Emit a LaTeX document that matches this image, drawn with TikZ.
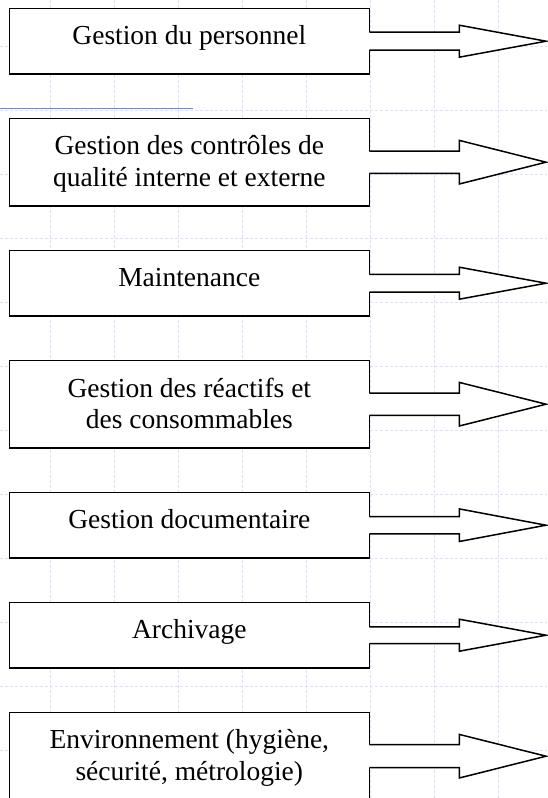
\documentclass[tikz,border=0pt]{standalone}
\usepackage{fontspec}
\setmainfont{Liberation Serif}
\usepackage{tikz}
\usetikzlibrary{positioning,calc}
\definecolor{gridblue}{RGB}{218,226,250}
\definecolor{lineblue}{RGB}{105,135,235}

\begin{document}
\begin{tikzpicture}[x=1pt,y=-1pt]
  \useasboundingbox (0,0) rectangle (547,798);
  \tikzset{GridStyle/.style = {gridblue, line width=0.8pt, dash pattern=on 3pt off 2pt}}
  \tikzset{BoxStyle/.style = {draw=black, line width=1.5pt, fill=white, shape=rectangle, minimum width=360pt, inner sep=0pt, outer sep=0pt, align=center, text=black, font=\fontsize{27.5}{31.7}\selectfont}}
  \tikzset{OneLine/.style = {BoxStyle, minimum height=65.7pt, text height=17pt, text depth=10.4pt}}
  \tikzset{TwoLine/.style = {BoxStyle, minimum height=87.7pt, text depth=2pt}}
  \tikzset{ArrowStyle/.style = {draw=black, line width=1.5pt, line join=miter}}

  % background grid
  \foreach \x in {50,114,...,498} \draw[GridStyle] (\x,0) -- (\x,798);
  \foreach \y in {46,110,...,750} \draw[GridStyle] (0,\y) -- (547,\y);
  \draw[line width=1.6pt, lineblue] (0,108.3) -- (192.7,108.3);

  \node(1)[OneLine] at (189.3,41.2) {Gestion du personnel};
  \node(2)[TwoLine, below=44.3pt of 1]{Gestion des contrôles de\\qualité interne et externe};
  \node(3)[OneLine, below=44.3pt of 2]{Maintenance};
  \node(4)[TwoLine, below=44.3pt of 3]{Gestion des réactifs et\\des consommables};
  \node(5)[OneLine, below=44.3pt of 4]{Gestion documentaire};
  \node(6)[OneLine, below=44.3pt of 5]{Archivage};
  \node(7)[TwoLine, below=44.3pt of 6]{Environnement (hygiène,\\sécurité, métrologie)};

  \coordinate (head) at (459.3,0);
  \coordinate (tip) at (546,0);

  % block arrows: node / shaft half / head half
  \foreach \n/\s/\h in {1/9/16, 2/11.2/21.8, 3/8.8/16, 4/11.2/21.8, 5/8.6/16.3, 6/8.3/16, 7/11.5/21.8}{
    \fill[white] ($(\n.east)+(-1pt,\s pt)$) -- ($(head |- \n.east)+(0pt,\s pt)$) -- ($(head |- \n.east)+(0pt,\h pt)$) -- (tip |- \n.east) -- ($(head |- \n.east)+(0pt,-\h pt)$) -- ($(head |- \n.east)+(0pt,-\s pt)$) -- ($(\n.east)+(-1pt,-\s pt)$) -- cycle;
    \draw[ArrowStyle] ($(\n.east)+(0pt,\s pt)$) -- ($(head |- \n.east)+(0pt,\s pt)$) -- ($(head |- \n.east)+(0pt,\h pt)$) -- (tip |- \n.east) -- ($(head |- \n.east)+(0pt,-\h pt)$) -- ($(head |- \n.east)+(0pt,-\s pt)$) -- ($(\n.east)+(0pt,-\s pt)$);
  }
\end{tikzpicture}
\end{document}
